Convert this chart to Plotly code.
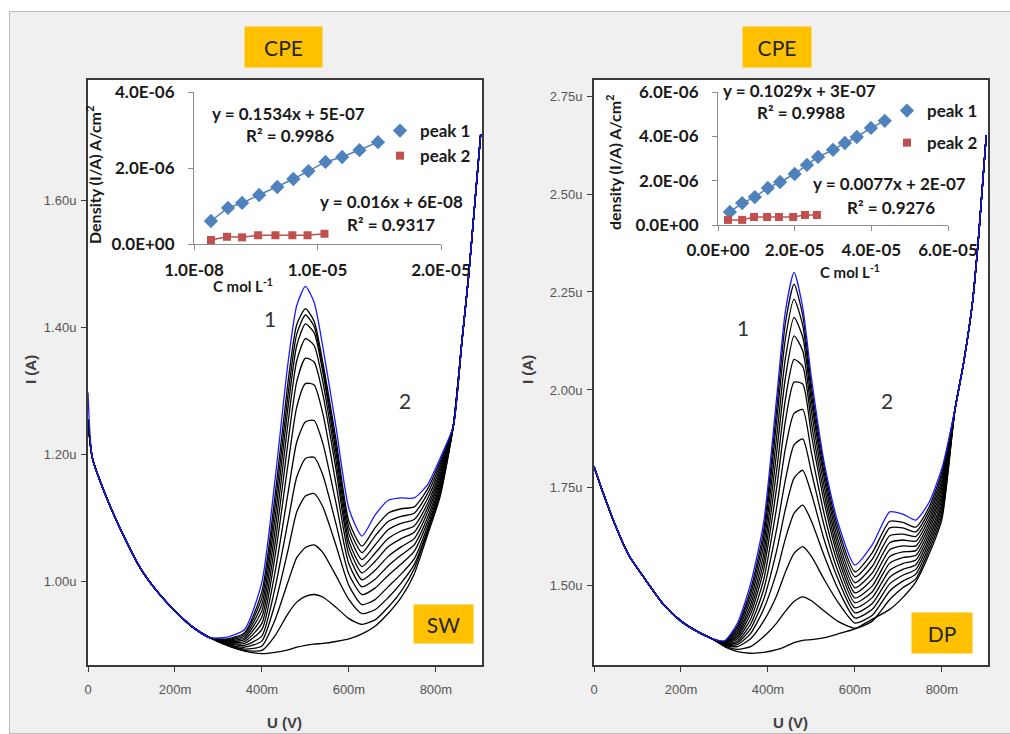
import plotly.graph_objects as go

W, H = 1010, 734

# ---------------- SW panel (left) : I in microampere, U in volt ----------------
sw_left_V = [0.0, 0.01, 0.04, 0.08, 0.12, 0.16, 0.20, 0.24, 0.28]
sw_left_I = [1.255, 1.195, 1.137, 1.075, 1.022, 0.984, 0.954, 0.929, 0.912]
sw_blue_I0 = 1.298
sw_mid_V = [0.32, 0.36, 0.40, 0.43, 0.46, 0.48, 0.50, 0.52, 0.54, 0.57, 0.60, 0.63, 0.66, 0.69, 0.72, 0.75, 0.78, 0.81]
sw_blank = [0.900, 0.891, 0.887, 0.889, 0.893, 0.897, 0.900, 0.902, 0.903, 0.906, 0.910, 0.918, 0.930, 0.950, 0.975, 1.012, 1.072, 1.135]
sw_c1 = [0.900, 0.892, 0.892, 0.915, 0.950, 0.968, 0.977, 0.980, 0.976, 0.960, 0.942, 0.933, 0.940, 0.960, 0.985, 1.020, 1.077, 1.140]
sw_c2 = [0.901, 0.894, 0.899, 0.940, 1.000, 1.038, 1.054, 1.058, 1.046, 1.010, 0.972, 0.950, 0.956, 0.975, 0.998, 1.027, 1.080, 1.145]
sw_c3 = [0.902, 0.897, 0.907, 0.965, 1.050, 1.110, 1.135, 1.139, 1.118, 1.058, 0.994, 0.964, 0.972, 0.992, 1.012, 1.036, 1.086, 1.150]
sw_c4 = [0.903, 0.900, 0.915, 0.990, 1.095, 1.165, 1.194, 1.196, 1.168, 1.092, 1.012, 0.980, 0.990, 1.010, 1.028, 1.048, 1.093, 1.155]
sw_c5 = [0.904, 0.903, 0.925, 1.015, 1.140, 1.220, 1.252, 1.254, 1.218, 1.125, 1.028, 0.992, 1.004, 1.025, 1.042, 1.058, 1.100, 1.160]
sw_c6 = [0.905, 0.906, 0.935, 1.040, 1.185, 1.275, 1.312, 1.310, 1.265, 1.155, 1.042, 1.003, 1.018, 1.040, 1.055, 1.068, 1.108, 1.165]
sw_c7 = [0.906, 0.909, 0.945, 1.060, 1.220, 1.315, 1.352, 1.346, 1.295, 1.178, 1.054, 1.014, 1.032, 1.055, 1.068, 1.078, 1.115, 1.170]
sw_c8 = [0.907, 0.912, 0.955, 1.080, 1.250, 1.348, 1.383, 1.372, 1.315, 1.192, 1.064, 1.024, 1.045, 1.068, 1.080, 1.088, 1.122, 1.175]
sw_c9 = [0.908, 0.915, 0.965, 1.100, 1.275, 1.372, 1.406, 1.392, 1.330, 1.205, 1.075, 1.035, 1.058, 1.082, 1.092, 1.098, 1.130, 1.180]
sw_c10 = [0.909, 0.918, 0.975, 1.118, 1.295, 1.390, 1.420, 1.402, 1.338, 1.215, 1.085, 1.046, 1.072, 1.095, 1.103, 1.108, 1.138, 1.185]
sw_c11 = [0.910, 0.920, 0.985, 1.135, 1.315, 1.405, 1.430, 1.410, 1.345, 1.225, 1.095, 1.056, 1.085, 1.108, 1.115, 1.118, 1.145, 1.190]
sw_blue = [0.913, 0.925, 1.000, 1.160, 1.345, 1.435, 1.465, 1.440, 1.370, 1.245, 1.115, 1.072, 1.105, 1.128, 1.132, 1.132, 1.152, 1.195]
sw_right_V = [0.84, 0.86, 0.875, 0.89, 0.903]
sw_right_I = [1.245, 1.380, 1.480, 1.600, 1.705]

# ---------------- DP panel (right) ----------------
dp_left_V = [0.0, 0.02, 0.05, 0.08, 0.12, 0.16, 0.20, 0.24, 0.27]
dp_left_I = [1.805, 1.740, 1.652, 1.578, 1.513, 1.452, 1.410, 1.382, 1.366]
dp_mid_V = [0.30, 0.33, 0.36, 0.39, 0.42, 0.44, 0.46, 0.48, 0.50, 0.53, 0.56, 0.60, 0.64, 0.68, 0.71, 0.74, 0.77, 0.80]
dp_blank = [1.345, 1.332, 1.328, 1.330, 1.337, 1.345, 1.355, 1.361, 1.363, 1.368, 1.377, 1.390, 1.415, 1.440, 1.470, 1.510, 1.580, 1.670]
dp_c1 = [1.347, 1.338, 1.345, 1.370, 1.405, 1.435, 1.460, 1.472, 1.462, 1.435, 1.410, 1.392, 1.410, 1.465, 1.495, 1.518, 1.590, 1.680]
dp_c2 = [1.348, 1.345, 1.365, 1.410, 1.475, 1.535, 1.583, 1.600, 1.575, 1.515, 1.460, 1.405, 1.425, 1.487, 1.512, 1.530, 1.600, 1.690]
dp_c3 = [1.349, 1.350, 1.378, 1.440, 1.535, 1.620, 1.685, 1.706, 1.665, 1.575, 1.495, 1.418, 1.440, 1.505, 1.527, 1.542, 1.610, 1.700]
dp_c4 = [1.350, 1.355, 1.390, 1.465, 1.590, 1.695, 1.775, 1.795, 1.735, 1.615, 1.520, 1.431, 1.455, 1.522, 1.542, 1.554, 1.620, 1.710]
dp_c5 = [1.351, 1.360, 1.402, 1.490, 1.645, 1.770, 1.860, 1.875, 1.790, 1.650, 1.540, 1.444, 1.470, 1.540, 1.557, 1.566, 1.630, 1.720]
dp_c6 = [1.352, 1.365, 1.415, 1.515, 1.700, 1.850, 1.940, 1.950, 1.840, 1.680, 1.560, 1.457, 1.485, 1.558, 1.572, 1.578, 1.640, 1.730]
dp_c7 = [1.353, 1.370, 1.428, 1.540, 1.750, 1.920, 2.020, 2.015, 1.885, 1.710, 1.577, 1.469, 1.500, 1.575, 1.587, 1.590, 1.650, 1.740]
dp_c8 = [1.354, 1.375, 1.440, 1.560, 1.795, 1.975, 2.078, 2.060, 1.915, 1.730, 1.592, 1.482, 1.517, 1.592, 1.602, 1.602, 1.660, 1.750]
dp_c9 = [1.355, 1.380, 1.452, 1.580, 1.840, 2.030, 2.138, 2.100, 1.945, 1.750, 1.607, 1.495, 1.533, 1.610, 1.617, 1.614, 1.670, 1.760]
dp_c10 = [1.356, 1.386, 1.465, 1.602, 1.880, 2.080, 2.185, 2.135, 1.970, 1.770, 1.622, 1.508, 1.550, 1.628, 1.632, 1.626, 1.680, 1.770]
dp_c11 = [1.357, 1.392, 1.478, 1.622, 1.920, 2.130, 2.232, 2.165, 1.990, 1.785, 1.638, 1.523, 1.568, 1.648, 1.648, 1.638, 1.690, 1.780]
dp_c12 = [1.358, 1.398, 1.490, 1.640, 1.950, 2.170, 2.270, 2.190, 2.010, 1.800, 1.652, 1.536, 1.585, 1.665, 1.662, 1.650, 1.700, 1.790]
dp_blue = [1.360, 1.405, 1.505, 1.660, 1.980, 2.200, 2.300, 2.210, 2.030, 1.810, 1.665, 1.553, 1.605, 1.689, 1.683, 1.668, 1.712, 1.800]
dp_right_V = [0.83, 0.85, 0.87, 0.885, 0.902]
dp_right_I = [1.950, 2.070, 2.220, 2.400, 2.650]

# ---------------- insets: density vs concentration ----------------
sw_conc_p1 = [1.38e-6, 2.76e-6, 3.9e-6, 5.28e-6, 6.75e-6, 8.05e-6, 9.27e-6, 1.065e-5, 1.2e-5, 1.34e-5, 1.49e-5]
sw_dens_p1 = [6.05e-7, 9.5e-7, 1.08e-6, 1.29e-6, 1.5e-6, 1.71e-6, 1.92e-6, 2.16e-6, 2.29e-6, 2.47e-6, 2.68e-6]
sw_conc_p2 = [1.38e-6, 2.68e-6, 3.9e-6, 5.2e-6, 6.6e-6, 7.97e-6, 9.2e-6, 1.057e-5]
sw_dens_p2 = [1.05e-7, 1.9e-7, 1.75e-7, 2.3e-7, 2.3e-7, 2.3e-7, 2.3e-7, 2.7e-7]
dp_conc_p1 = [3.1e-6, 6.3e-6, 9.6e-6, 1.3e-5, 1.62e-5, 2.0e-5, 2.32e-5, 2.61e-5, 3.0e-5, 3.31e-5, 3.62e-5, 3.99e-5, 4.35e-5]
dp_dens_p1 = [5.9e-7, 9.9e-7, 1.26e-6, 1.67e-6, 1.94e-6, 2.3e-6, 2.71e-6, 3.07e-6, 3.39e-6, 3.7e-6, 3.97e-6, 4.38e-6, 4.7e-6]
dp_conc_p2 = [2.6e-6, 6.3e-6, 9.4e-6, 1.28e-5, 1.59e-5, 1.96e-5, 2.27e-5, 2.58e-5]
dp_dens_p2 = [2.3e-7, 2.3e-7, 3.6e-7, 3.6e-7, 3.6e-7, 3.6e-7, 4.5e-7, 4.5e-7]

sw_eq = ["y = 0.1534x + 5E-07", "R² = 0.9986", "y = 0.016x + 6E-08", "R² = 0.9317"]
dp_eq = ["y = 0.1029x + 3E-07", "R² = 0.9988", "y = 0.0077x + 2E-07", "R² = 0.9276"]

sw_yticks = [1.0, 1.2, 1.4, 1.6]
sw_yticktext = ["1.00u", "1.20u", "1.40u", "1.60u"]
dp_yticks = [1.5, 1.75, 2.0, 2.25, 2.5, 2.75]
dp_yticktext = ["1.50u", "1.75u", "2.00u", "2.25u", "2.50u", "2.75u"]
u_ticks = [0, 0.2, 0.4, 0.6, 0.8]
u_ticktext = ["0", "200m", "400m", "600m", "800m"]

BLUE_LINE = "#1a1aff"
P1 = "#4f81bd"
P2 = "#c0504d"
FONT = "Liberation Sans"
CAL = "Lato"


def xd(a, b):
    return [a / W, b / W]


def yd(top, bottom):
    return [1 - bottom / H, 1 - top / H]


fig = go.Figure()

sw_curves = [sw_blank, sw_c1, sw_c2, sw_c3, sw_c4, sw_c5, sw_c6, sw_c7, sw_c8, sw_c9, sw_c10, sw_c11, sw_blue]
for k, mid in enumerate(sw_curves):
    last = k == len(sw_curves) - 1
    left = list(sw_left_I)
    if last:
        left[0] = sw_blue_I0
    fig.add_trace(go.Scatter(
        x=sw_left_V + sw_mid_V + sw_right_V, y=left + mid + sw_right_I,
        mode="lines", line=dict(color=BLUE_LINE if last else "black", width=1.3, shape="spline", smoothing=0.6),
        xaxis="x", yaxis="y", showlegend=False, hoverinfo="skip"))

dp_curves = [dp_blank, dp_c1, dp_c2, dp_c3, dp_c4, dp_c5, dp_c6, dp_c7, dp_c8, dp_c9, dp_c10, dp_c11, dp_c12, dp_blue]
for k, mid in enumerate(dp_curves):
    last = k == len(dp_curves) - 1
    fig.add_trace(go.Scatter(
        x=dp_left_V + dp_mid_V + dp_right_V, y=dp_left_I + mid + dp_right_I,
        mode="lines", line=dict(color=BLUE_LINE if last else "black", width=1.3, shape="spline", smoothing=0.6),
        xaxis="x2", yaxis="y2", showlegend=False, hoverinfo="skip"))

# insets
for xs, ys, col, sym, size, name, xa, ya, lg in [
    (sw_conc_p1, sw_dens_p1, P1, "diamond", 11, "peak 1", "x3", "y3", "legend"),
    (sw_conc_p2, sw_dens_p2, P2, "square", 8, "peak 2", "x3", "y3", "legend"),
    (dp_conc_p1, dp_dens_p1, P1, "diamond", 11, "peak 1", "x4", "y4", "legend2"),
    (dp_conc_p2, dp_dens_p2, P2, "square", 8, "peak 2", "x4", "y4", "legend2"),
]:
    fig.add_trace(go.Scatter(x=xs, y=ys, mode="lines", line=dict(color=col, width=1.5),
                             xaxis=xa, yaxis=ya, showlegend=False, hoverinfo="skip"))
    fig.add_trace(go.Scatter(x=xs, y=ys, mode="markers", name=name,
                             marker=dict(color=col, symbol=sym, size=size, line=dict(width=0)),
                             xaxis=xa, yaxis=ya, legend=lg, legendgroup=lg + name, hoverinfo="skip"))

main_tick_font = dict(family=FONT, size=13, color="#555555")
box = dict(showline=True, linecolor="#3a3a3a", linewidth=2, mirror=True, showgrid=False, zeroline=False,
           ticks="outside", ticklen=5, tickcolor="#3a3a3a", tickfont=main_tick_font, automargin=False)
inset_tick_font = dict(family=CAL, size=17, color="#1a1a1a", weight="bold")
inset_ax = dict(showline=True, linecolor="#8c8c8c", linewidth=1, showgrid=False, zeroline=False,
                ticks="outside", ticklen=5, tickcolor="#8c8c8c", tickfont=inset_tick_font, automargin=False)
legend_font = dict(family=CAL, size=17, color="#1a1a1a", weight="bold")

fig.update_layout(
    width=W, height=H, margin=dict(l=0, r=0, t=0, b=0, autoexpand=False),
    paper_bgcolor="#f0f0f0", plot_bgcolor="white",
    xaxis=dict(box, domain=xd(88, 482), range=[0, 0.906], tickvals=u_ticks, ticktext=u_ticktext,
               anchor="y", ticklabelstandoff=6),
    yaxis=dict(box, domain=yd(80, 665), range=[0.869, 1.790], tickvals=sw_yticks, ticktext=sw_yticktext,
               anchor="x", ticklabelstandoff=2),
    xaxis2=dict(box, domain=xd(594, 988), range=[0, 0.906], tickvals=u_ticks, ticktext=u_ticktext,
                anchor="y2", ticklabelstandoff=6),
    yaxis2=dict(box, domain=yd(80, 665), range=[1.298, 2.791], tickvals=dp_yticks, ticktext=dp_yticktext,
                anchor="x2", ticklabelstandoff=2),
    xaxis3=dict(inset_ax, domain=xd(194, 441), range=[1e-8, 2.0e-5], tickvals=[1e-8, 1e-5, 2e-5],
                ticktext=["1.0E-08", "1.0E-05", "2.0E-05"], anchor="y3", ticklabelstandoff=6),
    yaxis3=dict(inset_ax, domain=yd(92, 244), range=[0, 4e-6], tickvals=[0, 2e-6, 4e-6],
                ticktext=["0.0E+00", "2.0E-06", "4.0E-06"], anchor="x3", ticklabelstandoff=10),
    xaxis4=dict(inset_ax, domain=xd(718, 948), range=[0, 6e-5], tickvals=[0, 2e-5, 4e-5, 6e-5],
                ticktext=["0.0E+00", "2.0E-05", "4.0E-05", "6.0E-05"], anchor="y4", ticklabelstandoff=5),
    yaxis4=dict(inset_ax, domain=yd(92, 225), range=[0, 6e-6], tickvals=[0, 2e-6, 4e-6, 6e-6],
                ticktext=["0.0E+00", "2.0E-06", "4.0E-06", "6.0E-06"], anchor="x4", ticklabelstandoff=10),
    legend=dict(x=380 / W, y=1 - 113 / H, xanchor="left", yanchor="top", bgcolor="rgba(0,0,0,0)",
                font=legend_font, tracegroupgap=0, itemwidth=30),
    legend2=dict(x=887 / W, y=1 - 93 / H, xanchor="left", yanchor="top", bgcolor="rgba(0,0,0,0)",
                 font=legend_font, tracegroupgap=7, itemwidth=30),
    showlegend=True,
)

ann = []


def text(x, y, s, size=17, bold=True, family=CAL, color="#1a1a1a", angle=0, **kw):
    ann.append(dict(x=x / W, y=1 - y / H, xref="paper", yref="paper", text=s, showarrow=False,
                    font=dict(family=family, size=size, color=color, weight="bold" if bold else "normal"),
                    textangle=angle, xanchor="center", yanchor="middle", **kw))


# inset equations
text(288, 114, sw_eq[0]); text(290, 136, sw_eq[1]); text(391, 202, sw_eq[2]); text(391, 224, sw_eq[3])
text(799, 90, dp_eq[0]); text(801, 112, dp_eq[1]); text(889, 184, dp_eq[2]); text(891, 207, dp_eq[3])
# inset axis titles
text(243, 285, "C mol L<sup>-1</sup>", size=15)
text(850, 271, "C mol L<sup>-1</sup>", size=15)
text(93, 175, "Density (I/A) A/cm<sup>2</sup>", size=16, angle=-90)
text(613, 162, "density (I/A) A/cm<sup>2</sup>", size=16, angle=-90)
# main axis titles
text(30, 370, "I (A)", size=15, family=FONT, color="#404040", angle=-90)
text(527, 370, "I (A)", size=15, family=FONT, color="#404040", angle=-90)
text(284, 722, "U (V)", size=15, family=FONT, color="#404040")
text(790, 722, "U (V)", size=15, family=FONT, color="#404040")
# peak numbers
text(270, 318, "1", size=21, bold=False, color="#333333")
text(405, 400, "2", size=21, bold=False, color="#333333")
text(743, 327, "1", size=21, bold=False, color="#333333")
text(887, 400, "2", size=21, bold=False, color="#333333")
# orange tags
for cx, cy, w, h, s in [(283.5, 47, 77, 40, "CPE"), (777, 47, 68, 40, "CPE"),
                        (443.5, 624, 59, 38, "SW"), (942, 633, 60, 40, "DP")]:
    text(cx, cy, s, size=21, bold=False, color="#262626", bgcolor="#ffc000", width=w, height=h, borderpad=0)

fig.update_layout(annotations=ann)

fig.update_layout(shapes=[
    dict(type="rect", xref="paper", yref="paper", x0=0, x1=1, y0=1 - 11 / H, y1=1, fillcolor="white",
         line=dict(width=0), layer="above"),
    dict(type="rect", xref="paper", yref="paper", x0=0, x1=9 / W, y0=0, y1=1, fillcolor="white",
         line=dict(width=0), layer="above"),
    dict(type="line", xref="paper", yref="paper", x0=9 / W, x1=1, y0=1 - 11.5 / H, y1=1 - 11.5 / H,
         line=dict(color="#bdbdbd", width=1)),
    dict(type="line", xref="paper", yref="paper", x0=9.5 / W, x1=9.5 / W, y0=0, y1=1 - 11.5 / H,
         line=dict(color="#bdbdbd", width=1)),
    dict(type="line", xref="paper", yref="paper", x0=9 / W, x1=1, y0=0.5 / H, y1=0.5 / H,
         line=dict(color="#bdbdbd", width=1)),
])

fig.write_html("out.html", config={"displayModeBar": False},
               post_script="document.body.style.margin='0';document.body.style.overflow='hidden';")
